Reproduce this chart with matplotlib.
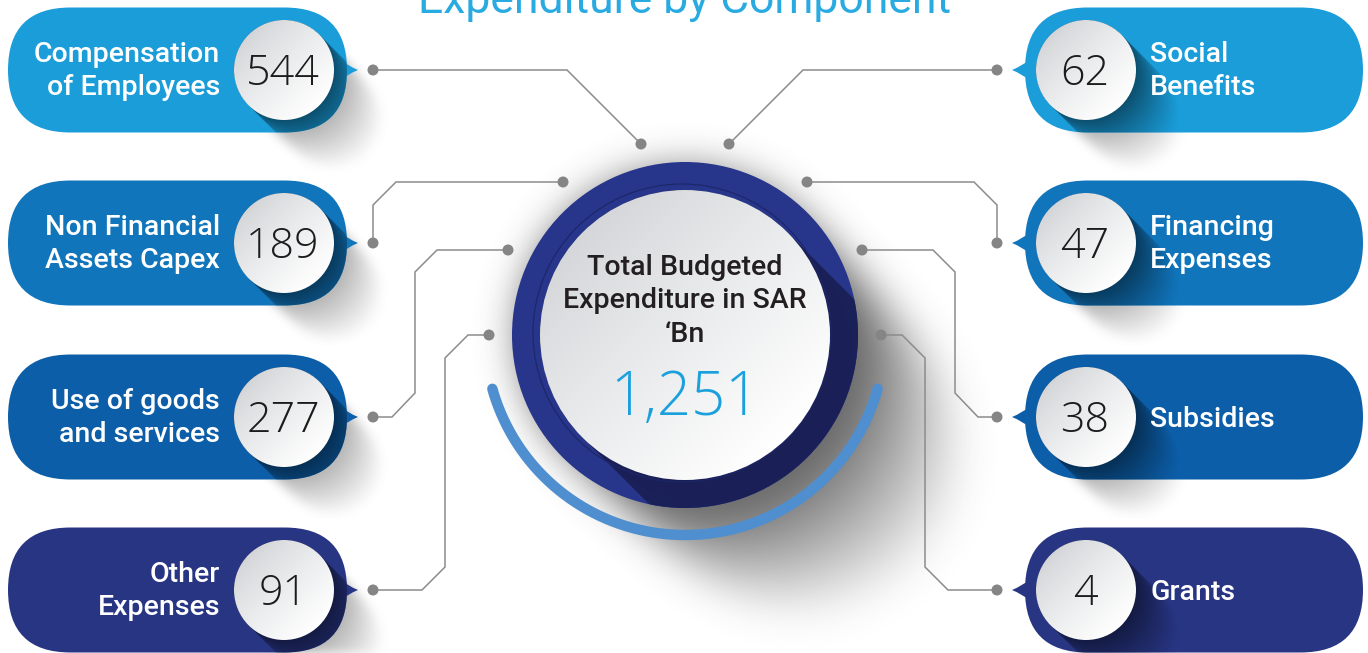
import numpy as np
import matplotlib
matplotlib.use("Agg")
import matplotlib.pyplot as plt
from matplotlib.patches import Circle, FancyBboxPatch, PathPatch
from matplotlib.path import Path
from matplotlib.colors import to_rgb

# ---------------- data ----------------
title = "Expenditure by Component"
center_label = ["Total Budgeted", "Expenditure in SAR", "\u2018Bn"]
total_value = "1,251"
left_labels = [["Compensation", "of Employees"], ["Non Financial", "Assets Capex"],
               ["Use of goods", "and services"], ["Other", "Expenses"]]
left_values = [544, 189, 277, 91]
right_labels = [["Social", "Benefits"], ["Financing", "Expenses"], ["Subsidies"], ["Grants"]]
right_values = [62, 47, 38, 4]
row_colors = ["#1a9dd9", "#1175bc", "#0c5ea8", "#283583"]

# ---------------- layout ----------------
W, H = 1368, 653
fig = plt.figure(figsize=(W / 100, H / 100), dpi=100)
ax = fig.add_axes([0, 0, 1, 1])
ax.set_xlim(0, W)
ax.set_ylim(H, 0)
ax.axis("off")

FONT = "Roboto"
NUM_FONT = "Open Sans"
ROW_Y = [70, 243, 417, 590]
PILL_H = 125
PR = PILL_H / 2
LEFT_X0, LEFT_X1 = 8, 347
RIGHT_X0, RIGHT_X1 = 1025, 1363
NUM_R = 50
LEFT_NUM_X, RIGHT_NUM_X = 284, 1086
CX, CY = 685, 335
OUTER_R, INNER_R = 173, 145
GRAY = "#8c8c8c"
SQ2 = np.sqrt(2)


def grid(x0, x1, y0, y1):
    xs = np.arange(x0, x1) + 0.5
    ys = np.arange(y0, y1) + 0.5
    return np.meshgrid(xs, ys)


def add_rgba(rgba, x0, x1, y0, y1, z, clip=None):
    im = ax.imshow(rgba, extent=(x0, x1, y1, y0), origin="upper", zorder=z,
                   interpolation="bilinear")
    if clip is not None:
        im.set_clip_path(clip)
    return im


def long_shadow_alpha(cx, cy, r, X, Y, L, soft=1.0):
    """Shadow of a disc swept along the 45deg down-right direction, fading with offset."""
    u = ((X - cx) + (Y - cy)) / SQ2
    v = ((X - cx) - (Y - cy)) / SQ2
    half = np.sqrt(np.clip(r * r - v * v, 0, None))
    s_min = np.clip(u - half, 0, None)
    inside = np.clip((r - np.abs(v)) / soft + 0.5, 0, 1)
    reach = np.clip((u + half) / soft + 0.5, 0, 1)
    a = np.clip(1 - s_min / L, 0, 1) * inside * reach
    return a


def blur(a, sigma):
    rad = int(3 * sigma)
    k = np.exp(-0.5 * (np.arange(-rad, rad + 1) / sigma) ** 2)
    k /= k.sum()
    a = np.apply_along_axis(lambda m: np.convolve(m, k, mode="same"), 0, a)
    a = np.apply_along_axis(lambda m: np.convolve(m, k, mode="same"), 1, a)
    return a


def shadow_img(color, alpha, X):
    rgba = np.zeros(X.shape + (4,))
    rgba[..., :3] = to_rgb(color)
    rgba[..., 3] = np.clip(alpha, 0, 1)
    return rgba


def grad_circle(cx, cy, r, c0, c1, z, power=0.8):
    x0, x1 = int(cx - r - 2), int(cx + r + 2)
    y0, y1 = int(cy - r - 2), int(cy + r + 2)
    X, Y = grid(x0, x1, y0, y1)
    u = ((X - cx) + (Y - cy)) / SQ2
    t = np.clip((u / r + 1) / 2, 0, 1) ** power
    c0 = np.array(to_rgb(c0)); c1 = np.array(to_rgb(c1))
    rgb = c0 + (c1 - c0) * t[..., None]
    circ = Circle((cx, cy), r, facecolor="none", edgecolor="none", zorder=z)
    ax.add_patch(circ)
    add_rgba(rgb, x0, x1, y0, y1, z, clip=circ)


def darker(c, f):
    return tuple(np.array(to_rgb(c)) * f)


def pointer(tip_x, y, direction):
    base = tip_x - direction * 22
    ctrl = tip_x - direction * 10
    verts = [(base, y - 13), (ctrl, y - 4), (tip_x, y), (ctrl, y + 4), (base, y + 13), (base, y - 13)]
    codes = [Path.MOVETO, Path.CURVE3, Path.CURVE3, Path.CURVE3, Path.CURVE3, Path.CLOSEPOLY]
    return Path(verts, codes)


def draw_pill(x0, x1, yc, color, num_x, tip_x, direction):
    y0 = yc - PR
    bx0, bx1 = int(num_x - NUM_R - 20), int(min(W, num_x + 200))
    by0, by1 = int(yc - NUM_R - 20), int(min(H, yc + PR + 40))
    X, Y = grid(bx0, bx1, by0, by1)
    # soft gray drop shadow below the pill
    ag = blur(long_shadow_alpha(num_x, yc, NUM_R, X, Y, 70), 5)
    add_rgba(shadow_img("#555555", 0.55 * ag, X), bx0, bx1, by0, by1, 1)
    # pill body
    pill = FancyBboxPatch((x0, y0), x1 - x0, PILL_H,
                          boxstyle=f"round,pad=0,rounding_size={PR}",
                          facecolor=color, edgecolor="none", zorder=2)
    ax.add_patch(pill)
    ax.add_patch(PathPatch(pointer(tip_x, yc, direction), facecolor=color,
                           edgecolor="none", zorder=2))
    # long dark shadow inside the pill
    ad = long_shadow_alpha(num_x, yc, NUM_R, X, Y, 62, soft=1.2)
    add_rgba(shadow_img(darker(color, 0.42), 0.85 * ad ** 1.2, X), bx0, bx1, by0, by1, 3, clip=pill)
    # number disc
    grad_circle(num_x, yc, NUM_R, "#d2d4d7", "#ffffff", 4)


# ---------------- title ----------------
ax.text(CX, 13, title, ha="center", va="baseline", fontsize=32, color="#29abe2",
        family=FONT, zorder=10)

# ---------------- pills ----------------
for i, yc in enumerate(ROW_Y):
    draw_pill(LEFT_X0, LEFT_X1, yc, row_colors[i], LEFT_NUM_X, 358, 1)
    draw_pill(RIGHT_X0, RIGHT_X1, yc, row_colors[i], RIGHT_NUM_X, 1012, -1)

    ax.text(LEFT_NUM_X - 1, yc + 15, str(left_values[i]), ha="center", va="baseline",
            fontsize=31, color="#1c1c1c", family=NUM_FONT, fontweight="light", zorder=6)
    ax.text(RIGHT_NUM_X - 1, yc + 15, str(right_values[i]), ha="center", va="baseline",
            fontsize=31, color="#1c1c1c", family=NUM_FONT, fontweight="light", zorder=6)

    lines = left_labels[i]
    base = [yc - 8, yc + 25] if len(lines) == 2 else [yc + 10]
    for t, by in zip(lines, base):
        ax.text(220, by, t, ha="right", va="baseline", fontsize=20.5, color="white",
                family=FONT, fontweight="medium", zorder=6)
    lines = right_labels[i]
    base = [yc - 8, yc + 25] if len(lines) == 2 else [yc + 10]
    for t, by in zip(lines, base):
        ax.text(1150, by, t, ha="left", va="baseline", fontsize=20.5, color="white",
                family=FONT, fontweight="medium", zorder=6)

# ---------------- connectors ----------------
conn_left = [
    [(373, 70), (567, 70), (641, 144)],
    [(373, 243), (373, 205), (396, 182), (563, 182)],
    [(373, 417), (392, 417), (415, 393), (415, 272), (437, 250), (508, 250)],
    [(373, 590), (422, 590), (445, 567), (445, 358), (468, 335), (489, 335)],
]
for path in conn_left:
    for mirror in (False, True):
        pts = [((2 * CX - x) if mirror else x, y) for x, y in path]
        xs, ys = zip(*pts)
        ax.plot(xs, ys, color=GRAY, lw=1.1, zorder=7, solid_joinstyle="miter")
        for (px, py) in (pts[0], pts[-1]):
            ax.add_patch(Circle((px, py), 5.5, facecolor="#858585", edgecolor="none", zorder=8))

# ---------------- central disc ----------------
bx0, bx1, by0, by1 = CX - OUTER_R - 40, CX + OUTER_R + 200, CY - OUTER_R - 40, H
X, Y = grid(bx0, bx1, by0, by1)
ac = blur(long_shadow_alpha(CX, CY, OUTER_R - 8, X, Y, 170), 20)
add_rgba(shadow_img("#3a3a3a", 0.8 * ac, X), bx0, bx1, by0, by1, 1)

theta = np.radians(np.linspace(15.6, 164.4, 300))
ax.plot(CX + 200 * np.cos(theta), CY + 200 * np.sin(theta), color="#4f8fcf", lw=7.5,
        solid_capstyle="round", zorder=3)

outer = Circle((CX, CY), OUTER_R, facecolor="#27358a", edgecolor="none", zorder=4)
ax.add_patch(outer)
X, Y = grid(CX - OUTER_R, CX + OUTER_R, CY - OUTER_R, CY + OUTER_R)
ai = long_shadow_alpha(CX, CY, INNER_R, X, Y, 1000, soft=1.2)
add_rgba(shadow_img("#1a2056", ai, X), CX - OUTER_R, CX + OUTER_R, CY - OUTER_R, CY + OUTER_R,
         5, clip=outer)
ax.add_patch(Circle((CX - 3, CY - 2), INNER_R + 4, facecolor="none", edgecolor="#1c2668",
                    lw=0.8, zorder=5))
grad_circle(CX, CY, INNER_R, "#d4d6d9", "#ffffff", 6, power=0.9)

for t, by in zip(center_label, [275, 308, 342]):
    ax.text(CX, by, t, ha="center", va="baseline", fontsize=20.5, color="#231f20",
            family=FONT, fontweight="medium", zorder=7)
ax.text(CX, 415, total_value, ha="center", va="baseline", fontsize=43, color="#1ba0de",
        family=NUM_FONT, fontweight="light", zorder=7)

ax.set_xlim(0, W)
ax.set_ylim(H, 0)
ax.set_aspect("auto")
fig.savefig("out.png", dpi=100, facecolor="white")
